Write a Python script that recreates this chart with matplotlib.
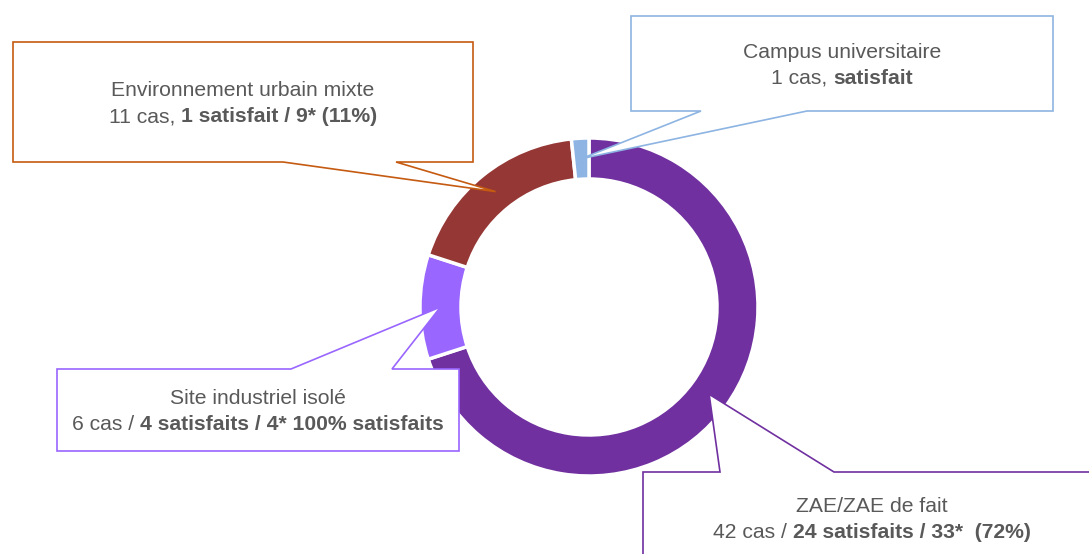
import matplotlib.pyplot as plt
from matplotlib.patches import Polygon
import numpy as np

plt.rcParams['font.family'] = ['Liberation Sans', 'DejaVu Sans']

# data
categories = ["ZAE/ZAE de fait", "Site industriel isolé",
              "Environnement urbain mixte", "Campus universitaire"]
cases = [42, 6, 11, 1]
summary_plain = ["42 cas / ", "6 cas / ", "11 cas, ", "1 cas, "]
summary_bold = ["24 satisfaits / 33*  (72%)", "4 satisfaits / 4* 100% satisfaits",
                "1 satisfait / 9* (11%)", "satisfait"]
colors = ["#7030A0", "#9966FF", "#953735", "#8EB4E3"]
callout_colors = ["#7030A0", "#9966FF", "#C55A11", "#8DB4E2"]

# callout boxes in pixels from top-left: x0, y0, x1, y1, pointer base a, b, side
boxes = [
    (643, 472, 1101, 570, 720, 834, "top"),
    (57, 369, 459, 451, 291, 392, "top"),
    (13, 42, 473, 162, 283, 396, "bottom"),
    (631, 16, 1053, 111, 701, 807, "bottom"),
]

W, H = 1089, 554
fig = plt.figure(figsize=(W / 100, H / 100), dpi=100)
ax = fig.add_axes([0, 0, 1, 1])

center = (589, H - 307)
radius = 169
ring = 41
wedges, _ = ax.pie(cases, colors=colors, startangle=90, counterclock=False,
                   radius=radius, center=center,
                   wedgeprops=dict(width=ring, edgecolor="white", linewidth=2.5))

ax.set_xlim(0, W)
ax.set_ylim(0, H)
ax.set_aspect("equal")
ax.axis("off")

renderer = fig.canvas.get_renderer()
text_kw = dict(color="#595959", fontsize=15.2, va="center", zorder=5)


def mixed_line(x, y, plain, bold):
    t1 = ax.text(0, y, plain, ha="left", **text_kw)
    t2 = ax.text(0, y, bold, ha="left", fontweight="bold", **text_kw)
    w1 = t1.get_window_extent(renderer).width
    w2 = t2.get_window_extent(renderer).width
    start = x - (w1 + w2) / 2
    t1.set_x(start)
    t2.set_x(start + w1)


for i, w in enumerate(wedges):
    mid = np.deg2rad((w.theta1 + w.theta2) / 2)
    r_tip = radius - ring / 2
    tip = (center[0] + r_tip * np.cos(mid), center[1] + r_tip * np.sin(mid))
    x0, y0, x1, y1, a, b, side = boxes[i]
    y0, y1 = H - y0, H - y1
    if side == "top":
        pts = [(x0, y0), (a, y0), tip, (b, y0), (x1, y0), (x1, y1), (x0, y1)]
    else:
        pts = [(x0, y0), (x1, y0), (x1, y1), (b, y1), tip, (a, y1), (x0, y1)]
    ax.add_patch(Polygon(pts, closed=True, facecolor="white",
                         edgecolor=callout_colors[i], linewidth=1.2, zorder=3))
    cx = (x0 + x1) / 2
    cy = (y0 + y1) / 2 - 2
    if i == 0:
        cx, cy = 872, H - 519
    ax.text(cx, cy + 13, categories[i], ha="center", **text_kw)
    mixed_line(cx, cy - 13, summary_plain[i], summary_bold[i])

fig.savefig("out.png", dpi=100)
